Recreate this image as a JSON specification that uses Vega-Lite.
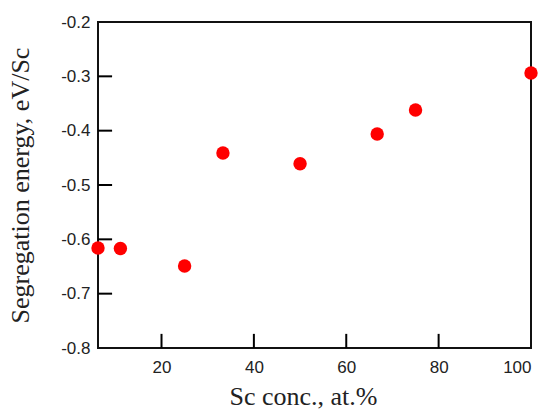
{
  "$schema": "https://vega.github.io/schema/vega-lite/v6.json",
  "autosize": "none",
  "width": 433,
  "height": 326,
  "padding": {"left": 98, "top": 22, "right": 18, "bottom": 69},
  "background": "white",
  "datasets": {
    "points": [
      {"sc": 6.25, "energy": -0.616},
      {"sc": 11.1, "energy": -0.617},
      {"sc": 25.0, "energy": -0.649},
      {"sc": 33.3, "energy": -0.441},
      {"sc": 50.0, "energy": -0.461},
      {"sc": 66.7, "energy": -0.406},
      {"sc": 75.0, "energy": -0.362},
      {"sc": 100.0, "energy": -0.294}
    ],
    "xticks": [{"sc": 20}, {"sc": 40}, {"sc": 60}, {"sc": 80}],
    "yticks": [{"energy": -0.7}, {"energy": -0.6}, {"energy": -0.5}, {"energy": -0.4}, {"energy": -0.3}]
  },
  "config": {
    "view": {"stroke": "#111", "strokeWidth": 2},
    "axis": {
      "grid": false,
      "domain": false,
      "ticks": false,
      "tickSize": 0,
      "labelFont": "Liberation Sans",
      "labelFontSize": 17,
      "labelColor": "#222",
      "titleFont": "Liberation Serif",
      "titleFontSize": 26,
      "titleFontWeight": "normal",
      "titleColor": "#222"
    }
  },
  "layer": [
    {
      "data": {"name": "xticks"},
      "mark": {"type": "rule", "stroke": "black", "strokeWidth": 2},
      "encoding": {
        "x": {"field": "sc", "type": "quantitative"},
        "y": {"datum": -0.8, "type": "quantitative"},
        "y2": {"datum": -0.774}
      }
    },
    {
      "data": {"name": "yticks"},
      "mark": {"type": "rule", "stroke": "black", "strokeWidth": 2},
      "encoding": {
        "y": {"field": "energy", "type": "quantitative"},
        "x": {"datum": 6.25, "type": "quantitative"},
        "x2": {"datum": 9.3}
      }
    },
    {
      "data": {"name": "points"},
      "mark": {"type": "circle", "color": "#ff0000", "opacity": 1, "size": 180, "clip": false},
      "encoding": {
        "x": {
          "field": "sc",
          "type": "quantitative",
          "scale": {"domain": [6.25, 100], "nice": false, "zero": false},
          "axis": {
            "values": [20, 40, 60, 80, 100],
            "title": "Sc conc., at.%",
            "labelPadding": 11,
            "titlePadding": 8,
            "titleX": 205
          }
        },
        "y": {
          "field": "energy",
          "type": "quantitative",
          "scale": {"domain": [-0.8, -0.2], "nice": false, "zero": false},
          "axis": {
            "values": [-0.8, -0.7, -0.6, -0.5, -0.4, -0.3, -0.2],
            "labelExpr": "replace(format(datum.value, '.1f'), '\u2212', '-')",
            "title": "Segregation energy, eV/Sc",
            "labelPadding": 8,
            "titlePadding": 27
          }
        }
      }
    }
  ]
}
